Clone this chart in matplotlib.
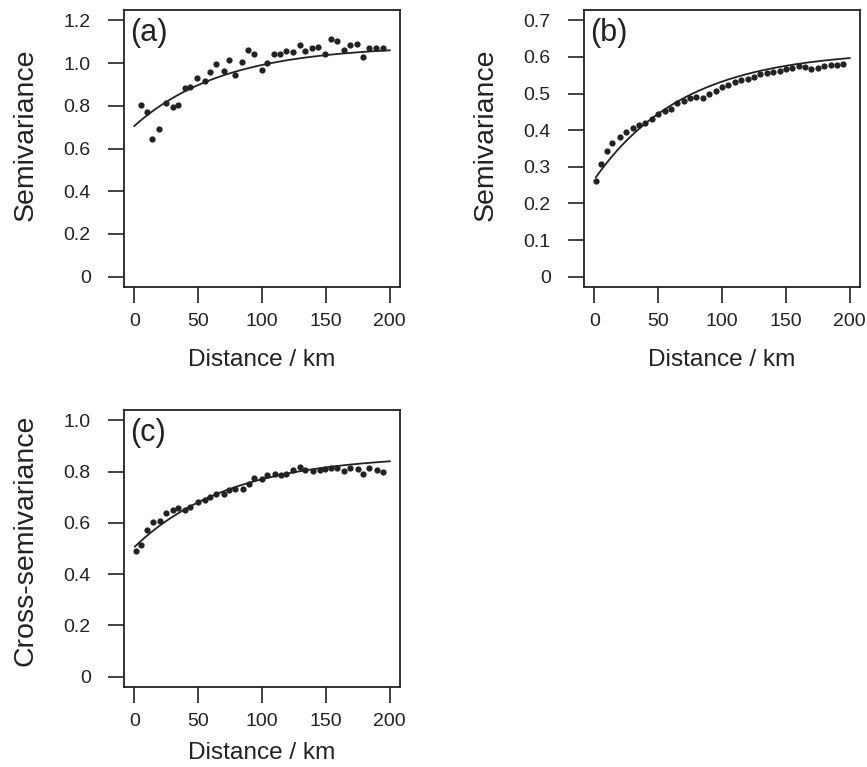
import numpy as np
import matplotlib
matplotlib.use("Agg")
import matplotlib.pyplot as plt

plt.rcParams['font.family'] = ['Liberation Sans', 'DejaVu Sans']
INK = '#222222'

# (a) semivariance, first variable
dist_a = [5, 10, 14, 19, 25, 30, 34, 40, 44, 49, 55, 59, 64, 70, 74, 79, 84, 89, 94, 100,
          104, 109, 114, 119, 124, 130, 134, 139, 144, 149, 154, 159, 164, 169, 174, 179, 184, 189, 195]
semi_a = [0.803, 0.772, 0.644, 0.691, 0.811, 0.792, 0.803, 0.884, 0.888, 0.932, 0.915, 0.957,
          0.994, 0.962, 1.013, 0.943, 1.005, 1.060, 1.044, 0.966, 0.998, 1.044, 1.044, 1.057,
          1.052, 1.086, 1.057, 1.071, 1.075, 1.040, 1.110, 1.105, 1.063, 1.086, 1.088, 1.026,
          1.072, 1.071, 1.068]

# (b) semivariance, second variable
dist_b = [1.3, 5, 10, 14, 20, 25, 30, 35, 40, 45, 50, 55, 60, 65, 70, 75, 80, 85, 90, 95,
          100, 105, 110, 115, 120, 125, 130, 135, 140, 145, 150, 155, 160, 165, 170, 175, 180, 185, 190, 195]
semi_b = [0.261, 0.309, 0.343, 0.365, 0.382, 0.395, 0.406, 0.413, 0.420, 0.431, 0.443, 0.452,
          0.459, 0.475, 0.481, 0.487, 0.490, 0.489, 0.500, 0.506, 0.519, 0.524, 0.532, 0.536,
          0.541, 0.545, 0.552, 0.556, 0.559, 0.561, 0.566, 0.571, 0.575, 0.573, 0.567, 0.570,
          0.575, 0.577, 0.579, 0.580]

# (c) cross-semivariance
dist_c = [1.3, 5, 10, 15, 20, 25, 30, 34, 40, 44, 50, 55, 59, 64, 70, 74, 79, 85, 90, 94,
          100, 104, 110, 115, 119, 124, 130, 134, 140, 145, 149, 154, 159, 164, 169, 175, 179, 184, 190, 195]
semi_c = [0.490, 0.512, 0.571, 0.604, 0.606, 0.638, 0.649, 0.657, 0.651, 0.661, 0.680, 0.688,
          0.701, 0.711, 0.714, 0.727, 0.733, 0.733, 0.750, 0.775, 0.771, 0.786, 0.792, 0.788,
          0.792, 0.806, 0.818, 0.806, 0.802, 0.806, 0.811, 0.812, 0.812, 0.804, 0.812, 0.811,
          0.792, 0.812, 0.806, 0.798]

# fitted exponential models: nugget, partial sill, range (km)
model_a = (0.705, 0.376, 70)
model_b = (0.265, 0.352, 70)
model_c = (0.505, 0.360, 75)


def expo(h, nugget, psill, rng):
    return nugget + psill * (1 - np.exp(-h / rng))


def panel(ax, dist, semi, model, h0, ylim, yticks, ylabels, ylab, tag, xlab_y, ylab_y):
    h = np.linspace(h0, 200, 200)
    ax.plot(h, expo(h, *model), color=INK, lw=1.3)
    ax.plot(dist, semi, 'o', color=INK, ms=4.5, mec='none')
    ax.set_xlim(-8, 208)
    ax.set_ylim(*ylim)
    ax.set_xticks([0, 50, 100, 150, 200])
    ax.set_yticks(yticks)
    ax.set_yticklabels(ylabels)
    for s in ax.spines.values():
        s.set_linewidth(1.3)
        s.set_color(INK)
    ax.tick_params(axis='both', direction='out', length=11.5, width=1.2, color=INK,
                   labelsize=14, labelcolor=INK)
    ax.tick_params(axis='y', pad=12.5)
    ax.tick_params(axis='x', pad=7)
    ax.set_xlabel('Distance / km', fontsize=17.6, color=INK)
    ax.set_ylabel(ylab, fontsize=20.5, color=INK)
    ax.xaxis.set_label_coords(0.5, xlab_y)
    ax.yaxis.set_label_coords(-0.31, ylab_y)
    ax.text(0.022, 0.972, tag, transform=ax.transAxes, ha='left', va='top',
            fontsize=22, color=INK)


fig = plt.figure(figsize=(8.67, 7.67), dpi=100)
W, H = 867, 767
ax_a = fig.add_axes([124 / W, 1 - 287 / H, 276 / W, 277 / H])
ax_b = fig.add_axes([584 / W, 1 - 287 / H, 276 / W, 277 / H])
ax_c = fig.add_axes([124 / W, 1 - 687 / H, 276 / W, 277 / H])

panel(ax_a, dist_a, semi_a, model_a, 0, (-0.048, 1.248),
      [0, 0.2, 0.4, 0.6, 0.8, 1.0, 1.2], ['0', '0.2', '0.4', '0.6', '0.8', '1.0', '1.2'],
      'Semivariance', '(a)', -0.225, 0.55)
panel(ax_b, dist_b, semi_b, model_b, 1.3, (-0.028, 0.728),
      [0, 0.1, 0.2, 0.3, 0.4, 0.5, 0.6, 0.7], ['0', '0.1', '0.2', '0.3', '0.4', '0.5', '0.6', '0.7'],
      'Semivariance', '(b)', -0.225, 0.55)
panel(ax_c, dist_c, semi_c, model_c, 0.5, (-0.04, 1.04),
      [0, 0.2, 0.4, 0.6, 0.8, 1.0], ['0', '0.2', '0.4', '0.6', '0.8', '1.0'],
      'Cross-semivariance', '(c)', -0.2, 0.53)

fig.savefig('out.png', dpi=100)
